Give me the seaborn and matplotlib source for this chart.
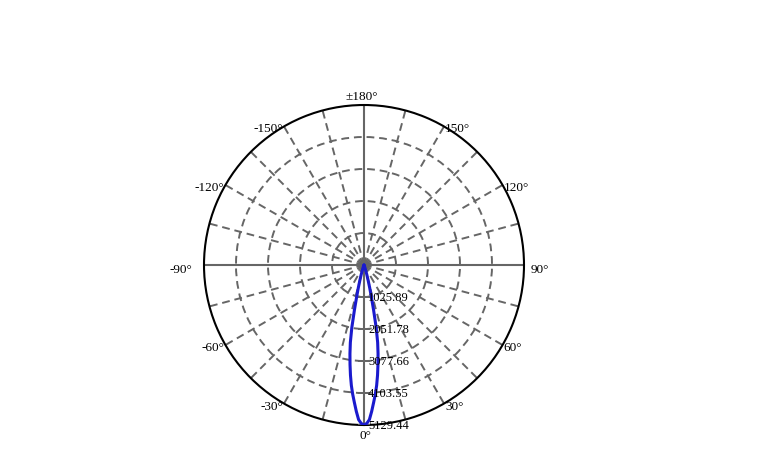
import matplotlib
matplotlib.use('Agg')
import matplotlib.pyplot as plt
import numpy as np
import seaborn as sns

# Intensity distribution (one half of the lobe, mirrored below)
angles_deg = [0, 1, 2, 3, 4, 5, 6, 7, 8, 9, 10, 11, 12, 13, 14, 15, 16, 17, 18, 19, 20, 22, 25]
intensity = [5129.44, 5080, 4960, 4700, 4420, 4160, 3880, 3560, 3220, 2880, 2520, 2050,
             1480, 1050, 760, 520, 360, 240, 160, 100, 60, 20, 0]

r_ticks = [1025.89, 2051.78, 3077.66, 4103.55, 5129.44]
theta_ticks = [0, 30, 60, 90, 120, 150, 180, -150, -120, -90, -60, -30]
theta_labels = ['0°', '30°', '60°', '90°', '120°', '150°', '±180°',
                '-150°', '-120°', '-90°', '-60°', '-30°']

sns.set_theme(style='white')
plt.rcParams['font.family'] = ['Liberation Serif', 'DejaVu Serif']
plt.rcParams['text.color'] = 'black'

full_deg = [-a for a in reversed(angles_deg[1:])] + angles_deg
full_int = list(reversed(intensity[1:])) + intensity

fig = plt.figure(figsize=(7.64, 4.64), dpi=100)
ax = fig.add_axes([204 / 764, 38 / 464, 320 / 764, 320 / 464], projection='polar')
ax.set_facecolor('white')
ax.set_theta_zero_location('S')
ax.set_theta_direction(1)
rmax = r_ticks[-1]
ax.set_ylim(0, rmax)

grid_col = '#666666'
ax.set_thetagrids(np.arange(0, 360, 15), labels=[])
ax.set_rgrids(r_ticks[:-1], labels=[])
ax.grid(True, color=grid_col, ls=(0, (4, 2.5)), lw=1.4)
for a in [0, 90, 180, 270]:
    ax.axvline(np.deg2rad(a), color=grid_col, lw=1.5, zorder=2)
ax.spines['polar'].set_color('black')
ax.spines['polar'].set_linewidth(1.5)

sns.lineplot(x=np.deg2rad(full_deg), y=full_int, ax=ax, sort=False,
             color='#1a1acd', lw=2.2, zorder=5)
ax.set_xlabel('')
ax.set_ylabel('')

# radial tick marks and labels along the 0° direction
ax.plot([0] * len(r_ticks), r_ticks, ls='none', marker='_', ms=8,
        mew=1.2, color=grid_col, zorder=4)
for v in r_ticks:
    ax.annotate(f'{v:.2f}', xy=(0, v), xytext=(4, 0), textcoords='offset pixels',
                ha='left', va='center', fontsize=9, color='black',
                annotation_clip=False, zorder=6)

# angle labels around the circle
for deg, lab in zip(theta_ticks, theta_labels):
    th = np.deg2rad(deg)
    s = np.sin(th)
    if deg == 0:
        ha, va, off = 'center', 'top', (1, -4)
    elif deg == 180:
        ha, va, off = 'center', 'bottom', (-2, 3)
    elif s > 0:
        ha, va = 'left', 'center'
        off = (7, -4) if deg == 90 else (1, -2)
    else:
        ha, va = 'right', 'center'
        off = (-12, -4) if deg == -90 else (-1, -2)
    ax.annotate(lab, xy=(th, rmax), xytext=off, textcoords='offset pixels',
                ha=ha, va=va, fontsize=9.5, color='black', annotation_clip=False)

fig.savefig('out.png', dpi=100, facecolor='white')
